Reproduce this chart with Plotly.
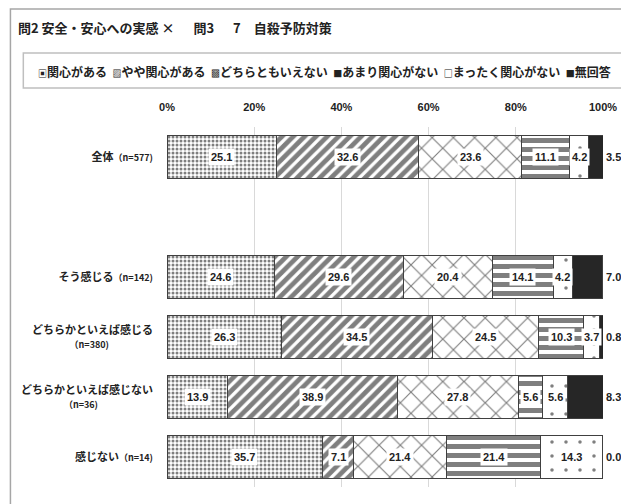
import plotly.graph_objects as go

# rows (top to bottom); "　" is the empty spacer row
categories = [
    "<b>全体</b><span style='font-size:9px'><b>（n=577)</b></span>",
    "　",
    "<b>そう感じる</b><span style='font-size:9px'><b>（n=142)</b></span>",
    "<b>どちらかといえば感じる</b><br><span style='font-size:9px'><b>（n=380)</b></span>　　　　",
    "<b>どちらかといえば感じない</b><br><span style='font-size:9px'><b>（n=36)</b></span>　　　　　",
    "<b>感じない</b><span style='font-size:9px'><b>（n=14)</b></span>",
]
series_names = ["関心がある", "やや関心がある", "どちらともいえない",
                "あまり関心がない", "まったく関心がない", "無回答"]
kanshin_aru = [25.1, None, 24.6, 26.3, 13.9, 35.7]
yaya_aru = [32.6, None, 29.6, 34.5, 38.9, 7.1]
dochira = [23.6, None, 20.4, 24.5, 27.8, 21.4]
amari_nai = [11.1, None, 14.1, 10.3, 5.6, 21.4]
mattaku_nai = [4.2, None, 4.2, 3.7, 5.6, 14.3]
mukaitou = [3.5, None, 7.0, 0.8, 8.3, 0.0]
x_ticks = [0, 20, 40, 60, 80, 100]

values = [kanshin_aru, yaya_aru, dochira, amari_nai, mattaku_nai, mukaitou]
patterns = [
    dict(shape=".", size=4, solidity=0.45, fgcolor="black", bgcolor="white"),
    dict(shape="/", size=8, solidity=0.6, fgcolor="black", bgcolor="white"),
    dict(shape="x", size=15, solidity=0.15, fgcolor="black", bgcolor="white"),
    dict(shape="-", size=9, solidity=0.55, fgcolor="black", bgcolor="white"),
    dict(shape=".", size=14, solidity=0.05, fgcolor="black", bgcolor="white"),
    dict(shape="", fgcolor="#262626", bgcolor="#262626"),
]

fig = go.Figure()
for name, vals, pat in zip(series_names, values, patterns):
    fig.add_trace(go.Bar(
        y=categories, x=vals, name=name, orientation="h",
        marker=dict(color="#262626" if pat["shape"] == "" else "white",
                    pattern=pat, line=dict(color="#404040", width=1)),
        showlegend=False, hoverinfo="x+name",
    ))

# data labels
annotations = []
for r, cat in enumerate(categories):
    if kanshin_aru[r] is None:
        continue
    cum = 0
    for s, vals in enumerate(values):
        v = vals[r]
        if s < 5:
            annotations.append(dict(
                x=cum + v / 2, y=cat, xref="x", yref="y", text=f"<b>{v:.1f}</b>",
                showarrow=False, bgcolor="white", borderpad=2,
                font=dict(size=11, color="#222", family="Liberation Sans"),
            ))
        else:
            annotations.append(dict(
                x=100, y=cat, xref="x", yref="y", text=f"<b>{v:.1f}</b>",
                showarrow=False, xanchor="left", xshift=1,
                font=dict(size=11, color="#222", family="Liberation Sans"),
            ))
        cum += v

# page has an 8px body margin; layout numbers below are figure pixels
W, H = 621, 496
L, R, T, B = 159, 22, 119, 17
pw, ph = W - L - R, H - T - B


def px(xp):
    return (xp - L) / pw


def py(yp):
    return 1 + (T - yp) / ph


# legend drawn as a text line in a box
icons = ["▣", "▨", "▩", "■", "□", "■"]
legend_text = "  ".join(
    f"<span style='font-size:9px'>{i}</span>{n}" for i, n in zip(icons, series_names)
)
annotations.append(dict(
    x=px(27), y=py(63), xref="paper", yref="paper", xanchor="left", yanchor="middle",
    text=f"<b>{legend_text}</b>", showarrow=False,
    font=dict(size=12, color="#222"),
))

shapes = [
    dict(type="rect", xref="paper", yref="paper", x0=px(14), x1=px(640),
         y0=py(80), y1=py(45), line=dict(color="#bfbfbf", width=1.5)),
    dict(type="rect", xref="paper", yref="paper", x0=px(1), x1=px(660),
         y0=py(520), y1=py(1), line=dict(color="#a6a6a6", width=1.5)),
]

fig.update_layout(
    width=W, height=H,
    barmode="stack", bargap=0.28,
    margin=dict(l=L, r=R, t=T, b=B),
    paper_bgcolor="white", plot_bgcolor="white",
    font=dict(family="Noto Sans CJK JP", size=11, color="#222"),
    title=dict(text="<b>問2 安全・安心への実感 ×　  問3　  7　自殺予防対策</b>",
               x=10 / W, xanchor="left", y=1 - 20 / H, yanchor="middle",
               font=dict(size=13, color="#222")),
    xaxis=dict(range=[0, 100], side="top", tickvals=x_ticks,
               ticktext=[f"<b>{t}%</b>" for t in x_ticks],
               showgrid=True, gridcolor="#d9d9d9", zeroline=False,
               ticks="", ticklabelstandoff=13, tickfont=dict(size=11, family="Liberation Sans")),
    yaxis=dict(type="category", categoryorder="array", categoryarray=categories,
               autorange="reversed", showgrid=False, ticks="", ticklabelstandoff=13,
               tickfont=dict(size=11)),
    annotations=annotations,
    shapes=shapes,
)

fig.write_html("out.html")
